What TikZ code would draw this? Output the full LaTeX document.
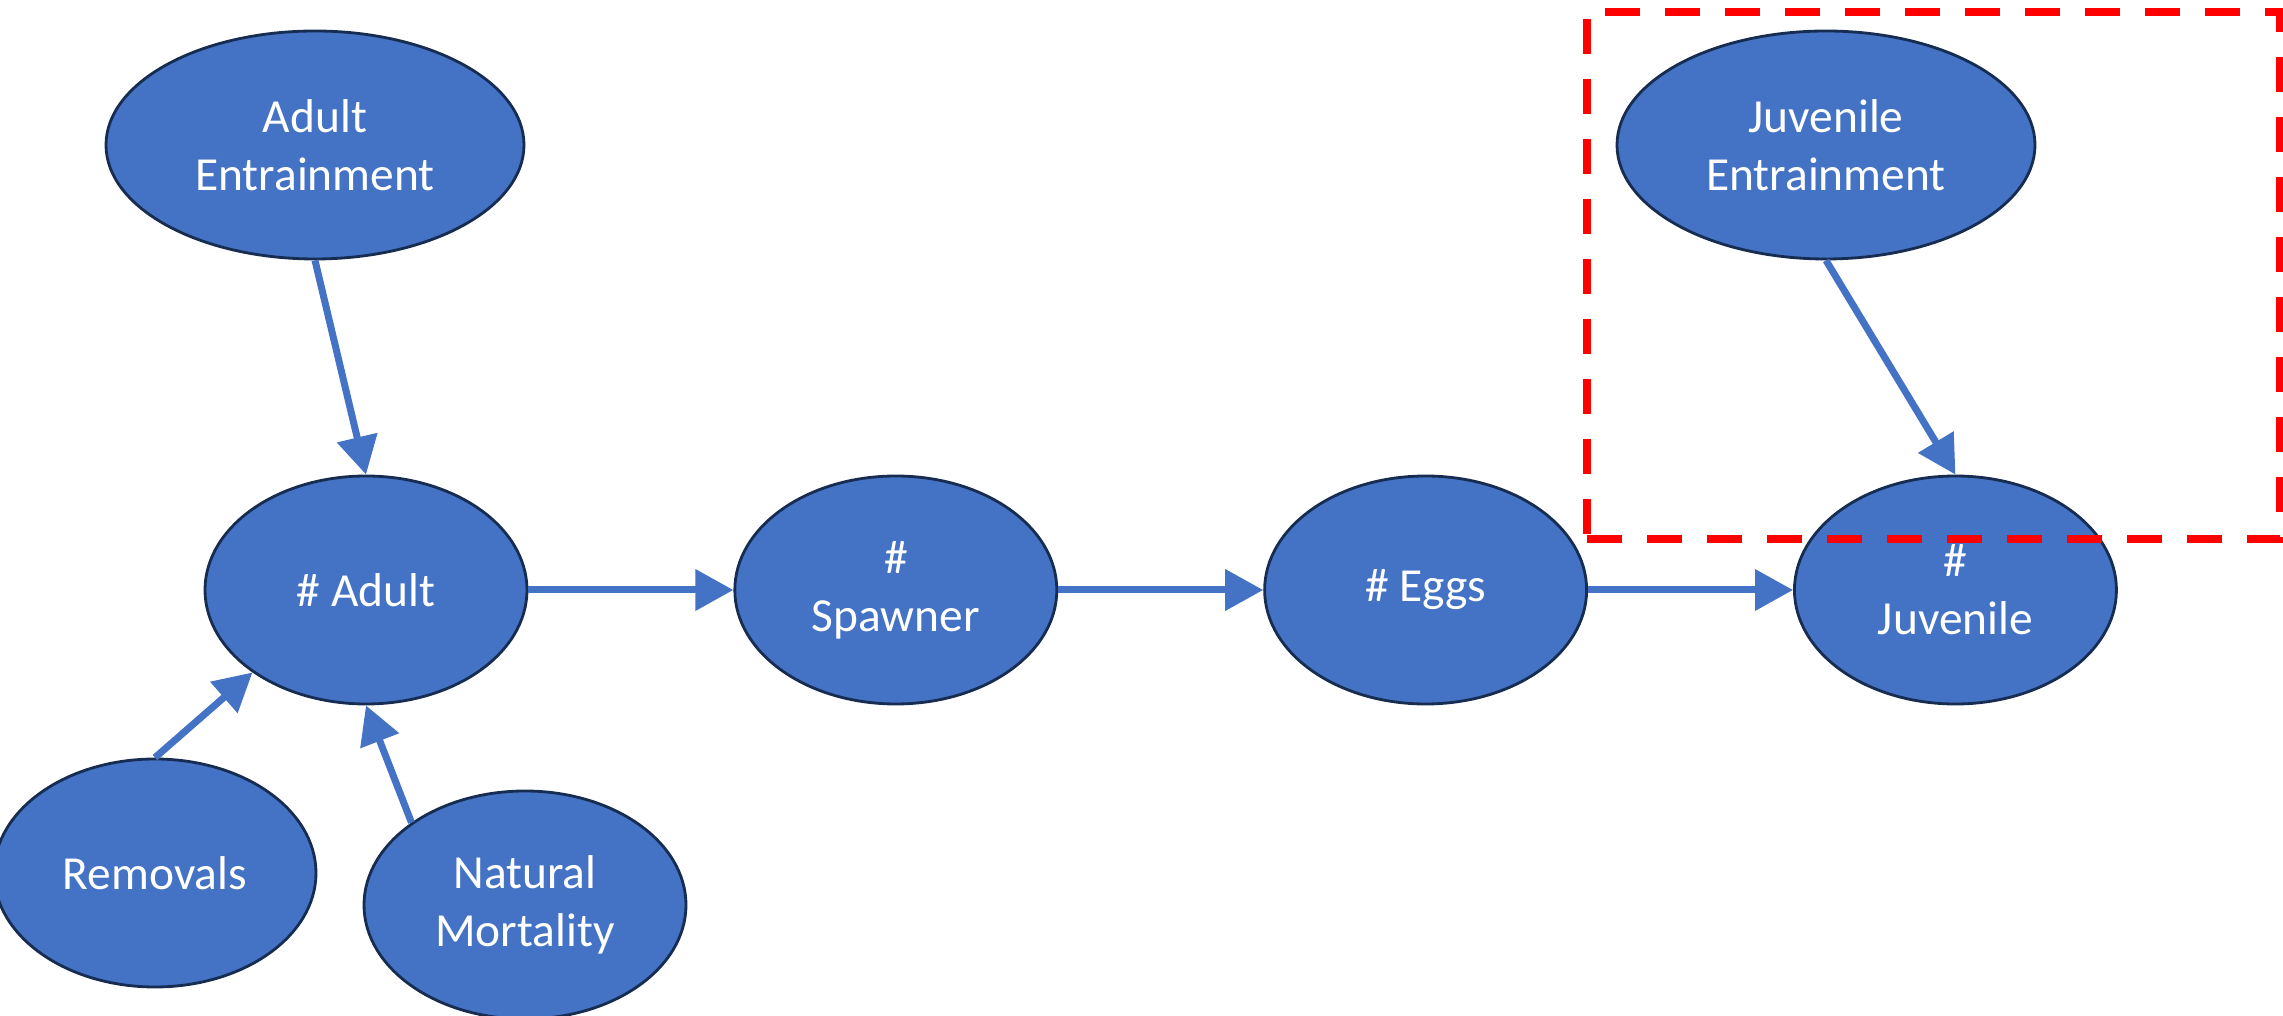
\documentclass[tikz,border=0pt]{standalone}
\usepackage{fontspec}
\setmainfont{Carlito}
\usetikzlibrary{arrows.meta, positioning, shapes.geometric}
\definecolor{nodeblue}{HTML}{4472C4}
\definecolor{nodeedge}{HTML}{172C51}
\definecolor{boxred}{HTML}{FF0000}

\begin{document}
\begin{tikzpicture}[
    ->,
    >={Triangle[length=0.38cm, width=0.4cm]},
    line width=0.07cm,
    node distance=2.05cm
]
\tikzset{
    stock/.style = {ellipse, draw=nodeedge, line width=0.8pt, fill=nodeblue, text=white,
        align=center, inner sep=0pt, minimum width=3.22cm, minimum height=2.28cm,
        font=\fontsize{13.5}{16.5}\selectfont},
    bigstock/.style = {stock, minimum width=4.18cm},
    flow/.style = {draw=nodeblue, fill=nodeblue},
    focusbox/.style = {draw=boxred, line width=0.08cm, dash pattern=on 0.35cm off 0.25cm,
        inner sep=0pt, minimum width=6.93cm, minimum height=5.27cm}
}
\useasboundingbox (0,0) rectangle (22.83,10.16);

% Life stages
\node[stock] (adult) at (3.66,4.26) {\# Adult};
\node[stock, right=of adult] (spawner) {\#\\Spawner};
\node[stock, right=of spawner] (eggs) {\# Eggs};
\node[stock, right=of eggs] (juv) {\#\\Juvenile};

\draw[flow] (adult) -- (spawner);
\draw[flow] (spawner) -- (eggs);
\draw[flow] (eggs) -- (juv);

% Sources of loss on adults
\node[bigstock] (adultent) at (3.15,8.71) {Adult\\Entrainment};
\node[stock] (removals) at (1.55,1.43) {Removals};
\node[stock] (natmort) at (5.25,1.11) {Natural\\Mortality};

\draw[flow] (adultent.south) -- (adult.north);
\draw[flow] (removals.north) -- (adult.216);
\draw[flow] (natmort.144) -- (adult.south);

% Juvenile entrainment
\node[bigstock] (juvent) at (18.26,8.71) {Juvenile\\Entrainment};
\draw[flow] (juvent.south) -- (juv.north);

\node[focusbox, -] (focus) at (19.335,7.405) {};

\end{tikzpicture}
\end{document}
